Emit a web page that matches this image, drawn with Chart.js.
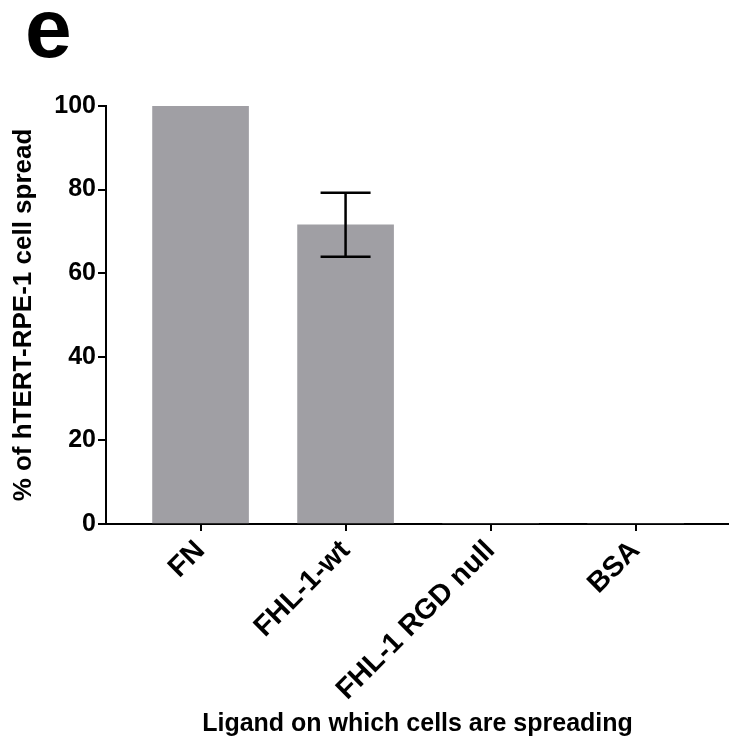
<!DOCTYPE html>
<html>
<head>
<meta charset="utf-8">
<script src="https://cdn.jsdelivr.net/npm/chart.js@4"></script>
<style>
  html, body { margin: 0; padding: 0; background: #ffffff; }
  #wrap { position: relative; width: 729px; height: 751px; }
</style>
</head>
<body>
<div id="wrap"><canvas id="c" width="729" height="751"></canvas></div>
<script>
// ---- data ----
const panelLabel = 'e';
const categories = ['FN', 'FHL-1-wt', 'FHL-1 RGD null', 'BSA'];
const spreadPercent = [100, 71.6, 0, 0];
const spreadError = [0, 7.65, 0, 0];
const yTicks = [0, 20, 40, 60, 80, 100];
const yTitle = '% of hTERT-RPE-1 cell spread';
const xTitle = 'Ligand on which cells are spreading';

const FONT = "'Liberation Sans', Arial, Helvetica, sans-serif";

const errorBarPlugin = {
  id: 'errorBars',
  afterDatasetsDraw(chart) {
    const ctx = chart.ctx;
    const xs = chart.scales.x, ys = chart.scales.y;
    ctx.save();
    ctx.strokeStyle = '#000';
    ctx.lineWidth = 2.5;
    spreadError.forEach((e, i) => {
      if (!e) return;
      const x = xs.getPixelForValue(i);
      const yHi = ys.getPixelForValue(spreadPercent[i] + e);
      const yLo = ys.getPixelForValue(spreadPercent[i] - e);
      const half = 25;
      ctx.beginPath();
      ctx.moveTo(x, yHi); ctx.lineTo(x, yLo);
      ctx.moveTo(x - half, yHi); ctx.lineTo(x + half, yHi);
      ctx.moveTo(x - half, yLo); ctx.lineTo(x + half, yLo);
      ctx.stroke();
    });
    ctx.restore();
  }
};

const panelLabelPlugin = {
  id: 'panelLabel',
  afterDraw(chart) {
    const ctx = chart.ctx;
    ctx.save();
    ctx.fillStyle = '#000';
    ctx.font = "bold 84px " + FONT;
    ctx.textAlign = 'left';
    ctx.textBaseline = 'alphabetic';
    ctx.fillText(panelLabel, 25, 57);
    ctx.restore();
  }
};

new Chart(document.getElementById('c'), {
  type: 'bar',
  data: {
    datasets: [{
      data: categories.map((c, i) => ({ x: i, y: spreadPercent[i] })),
      backgroundColor: '#a09fa4',
      borderWidth: 0,
      barThickness: 96
    }]
  },
  options: {
    responsive: false,
    animation: false,
    layout: { padding: { top: 106, left: 0, right: 0, bottom: 0 } },
    plugins: { legend: { display: false }, tooltip: { enabled: false } },
    scales: {
      x: {
        type: 'linear',
        offset: false,
        min: -0.652,
        max: 3.644,
        afterBuildTicks(scale) { scale.ticks = categories.map((c, i) => ({ value: i })); },
        afterFit(scale) { scale.height = 751 - 524; },
        ticks: {
          autoSkip: false,
          minRotation: 45,
          maxRotation: 45,
          padding: 3,
          color: '#000',
          font: { family: FONT, size: 28.5, weight: 'bold' },
          callback: (v) => categories[v]
        },
        grid: { offset: false, drawOnChartArea: false, drawTicks: true, tickLength: 7, color: '#000', lineWidth: 2 },
        border: { display: true, color: '#000', width: 2 },
        title: {
          display: true,
          text: xTitle,
          color: '#000',
          font: { family: FONT, size: 25, weight: 'bold' },
          padding: { top: 0, bottom: 12 }
        }
      },
      y: {
        min: 0,
        max: 100,
        afterBuildTicks(scale) { scale.ticks = yTicks.map(v => ({ value: v })); },
        afterFit(scale) { scale.width = 106; },
        ticks: {
          padding: 2,
          color: '#000',
          font: { family: FONT, size: 25, weight: 'bold' }
        },
        grid: { drawOnChartArea: false, drawTicks: true, tickLength: 8, color: '#000', lineWidth: 2 },
        border: { display: true, color: '#000', width: 2 },
        title: {
          display: true,
          text: yTitle,
          color: '#000',
          font: { family: FONT, size: 26, weight: 'bold' },
          padding: { top: 8, bottom: 0 }
        }
      }
    }
  },
  plugins: [errorBarPlugin, panelLabelPlugin]
});
</script>
</body>
</html>
